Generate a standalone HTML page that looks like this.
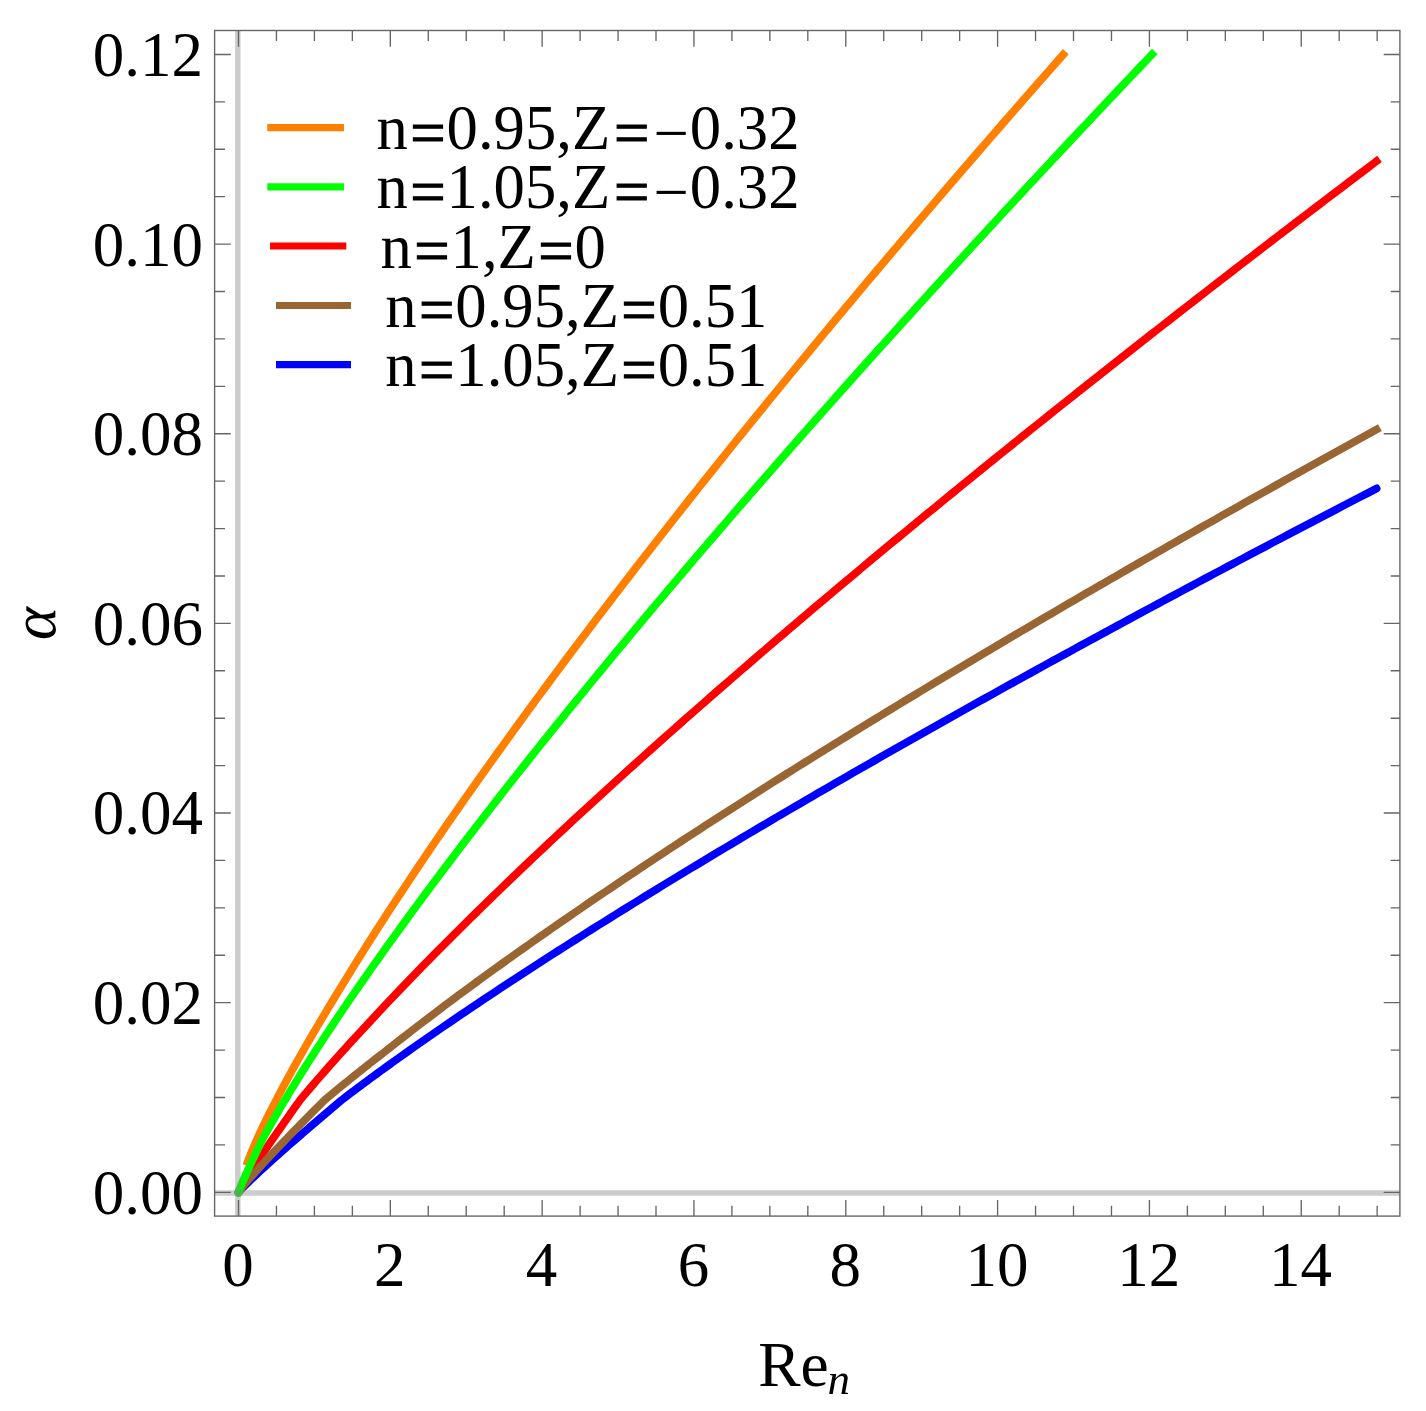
<!DOCTYPE html>
<html><head><meta charset="utf-8"><title>alpha vs Re_n</title>
<style>
html,body{margin:0;padding:0;background:#fff;}
svg{display:block;}
text{font-family:"Liberation Serif","Times New Roman",serif;fill:#000;}
</style></head><body>
<svg width="1426" height="1411" viewBox="0 0 1426 1411">
<rect width="1426" height="1411" fill="#fff"/>
<g fill="none" stroke-width="7.8" stroke-linejoin="round" stroke-linecap="butt">
<path d="M246.26 1165.57 L247.30 1162.80 L248.33 1160.10 L249.37 1157.46 L250.40 1154.87 L251.43 1152.34 L252.47 1149.85 L253.50 1147.41 L254.53 1145.00 L255.57 1142.62 L256.60 1140.28 L257.64 1137.97 L258.67 1135.68 L259.70 1133.42 L260.74 1131.19 L261.77 1128.98 L262.80 1126.80 L263.84 1124.63 L264.87 1122.49 L265.90 1120.36 L266.94 1118.25 L267.97 1116.17 L269.01 1114.09 L270.04 1112.04 L271.07 1110.00 L272.11 1107.97 L273.14 1105.96 L274.17 1103.97 L275.21 1101.98 L276.24 1100.01 L279.49 1093.81 L282.74 1087.68 L285.99 1081.63 L289.24 1075.66 L292.48 1069.74 L295.73 1063.89 L298.98 1058.10 L302.23 1052.36 L305.48 1046.68 L308.73 1041.04 L311.98 1035.44 L315.23 1029.89 L318.48 1024.38 L321.72 1018.91 L324.97 1013.48 L328.22 1008.08 L331.47 1002.71 L334.72 997.38 L337.97 992.08 L342.28 984.99 L346.58 977.95 L350.89 970.96 L355.20 964.02 L359.50 957.12 L363.81 950.26 L368.12 943.45 L372.42 936.68 L376.73 929.95 L381.04 923.25 L385.34 916.59 L389.65 909.97 L393.96 903.38 L398.26 896.82 L402.57 890.29 L406.88 883.80 L411.18 877.33 L415.49 870.89 L419.80 864.48 L424.10 858.10 L428.41 851.74 L432.72 845.41 L437.02 839.11 L441.33 832.83 L445.64 826.57 L449.94 820.33 L454.25 814.12 L458.56 807.93 L462.86 801.77 L467.17 795.62 L471.48 789.49 L475.78 783.39 L480.09 777.30 L484.40 771.23 L488.70 765.19 L493.01 759.16 L497.32 753.14 L501.62 747.15 L505.93 741.18 L510.24 735.22 L514.54 729.28 L518.85 723.35 L523.16 717.44 L527.46 711.55 L531.77 705.67 L536.08 699.81 L540.38 693.96 L544.69 688.13 L549.00 682.31 L553.30 676.51 L557.61 670.72 L561.92 664.95 L566.22 659.18 L570.53 653.44 L574.84 647.70 L579.14 641.98 L583.45 636.27 L587.76 630.58 L592.06 624.89 L596.37 619.22 L600.68 613.56 L604.98 607.92 L609.29 602.28 L613.60 596.66 L617.90 591.05 L622.21 585.45 L626.52 579.86 L630.82 574.28 L635.13 568.72 L639.44 563.16 L643.74 557.61 L648.05 552.08 L652.36 546.55 L656.66 541.04 L660.97 535.54 L665.28 530.04 L669.58 524.56 L673.89 519.08 L678.20 513.62 L682.50 508.16 L686.81 502.72 L691.12 497.28 L695.42 491.85 L699.73 486.44 L704.04 481.03 L708.34 475.63 L712.65 470.23 L716.96 464.85 L721.26 459.48 L725.57 454.11 L729.88 448.76 L734.18 443.41 L738.49 438.07 L742.80 432.73 L747.10 427.41 L751.41 422.10 L755.72 416.79 L760.02 411.49 L764.33 406.20 L768.64 400.91 L772.94 395.63 L777.25 390.36 L781.56 385.10 L785.86 379.85 L790.17 374.60 L794.48 369.36 L798.78 364.13 L803.09 358.91 L807.40 353.69 L811.71 348.48 L816.01 343.27 L820.32 338.08 L824.63 332.88 L828.93 327.70 L833.24 322.53 L837.55 317.36 L841.85 312.19 L846.16 307.04 L850.47 301.88 L854.77 296.74 L859.08 291.60 L863.39 286.47 L867.69 281.35 L872.00 276.23 L876.31 271.12 L880.61 266.01 L884.92 260.91 L889.23 255.82 L893.53 250.73 L897.84 245.65 L902.15 240.57 L906.45 235.50 L910.76 230.44 L915.07 225.38 L919.37 220.33 L923.68 215.28 L927.99 210.24 L932.29 205.20 L936.60 200.17 L940.91 195.15 L945.21 190.13 L949.52 185.12 L953.83 180.11 L958.13 175.11 L962.44 170.11 L966.75 165.12 L971.05 160.13 L975.36 155.15 L979.67 150.17 L983.97 145.20 L988.28 140.23 L992.59 135.27 L996.89 130.32 L1001.20 125.37 L1005.51 120.42 L1009.81 115.48 L1014.12 110.54 L1018.43 105.61 L1022.73 100.69 L1027.04 95.76 L1031.35 90.85 L1035.65 85.94 L1039.96 81.03 L1044.27 76.13 L1048.57 71.23 L1052.88 66.34 L1057.19 61.45 L1061.49 56.56 L1065.80 51.68" stroke="#ff8000"/>
<path d="M238.50 1192.30 L239.24 1190.70 L241.34 1186.90 L243.45 1183.35 L245.55 1179.92 L247.65 1176.56 L249.75 1173.26 L251.85 1170.00 L253.95 1166.78 L256.05 1163.59 L258.15 1160.42 L260.25 1157.27 L262.35 1154.15 L264.45 1151.04 L266.55 1147.95 L268.65 1144.88 L270.75 1141.82 L272.85 1138.77 L274.95 1135.73 L277.05 1132.71 L279.15 1129.69 L281.25 1126.69 L283.35 1123.69 L285.45 1120.70 L287.55 1117.72 L289.65 1114.75 L291.75 1111.79 L293.85 1108.83 L295.95 1105.88 L298.05 1102.93 L300.15 1099.99 L303.41 1096.10 L306.67 1092.23 L309.93 1088.40 L313.19 1084.59 L316.45 1080.81 L319.71 1077.06 L322.97 1073.33 L326.23 1069.62 L329.49 1065.93 L332.75 1062.27 L336.00 1058.63 L339.26 1055.00 L342.52 1051.40 L345.78 1047.81 L349.04 1044.24 L352.30 1040.69 L355.56 1037.16 L358.82 1033.64 L362.08 1030.14 L368.10 1023.58 L374.12 1017.07 L380.14 1010.62 L386.16 1004.20 L392.18 997.83 L398.20 991.50 L404.22 985.22 L410.24 978.97 L416.26 972.75 L422.28 966.57 L428.30 960.43 L434.32 954.32 L440.34 948.24 L446.36 942.18 L452.38 936.16 L458.40 930.17 L464.42 924.20 L470.44 918.26 L476.46 912.35 L482.48 906.46 L488.50 900.59 L494.52 894.75 L500.54 888.93 L506.57 883.14 L512.59 877.36 L518.61 871.61 L524.63 865.88 L530.65 860.16 L536.67 854.47 L542.69 848.80 L548.71 843.14 L554.73 837.51 L560.75 831.89 L566.77 826.29 L572.79 820.70 L578.81 815.13 L584.83 809.58 L590.85 804.05 L596.87 798.53 L602.89 793.02 L608.91 787.54 L614.93 782.06 L620.95 776.60 L626.97 771.16 L632.99 765.73 L639.01 760.31 L645.03 754.91 L651.05 749.52 L657.07 744.14 L663.09 738.78 L669.11 733.43 L675.13 728.09 L681.15 722.76 L687.17 717.45 L693.19 712.14 L699.21 706.85 L705.23 701.57 L711.25 696.31 L717.27 691.05 L723.29 685.80 L729.31 680.57 L735.33 675.34 L741.35 670.13 L747.37 664.93 L753.39 659.74 L759.42 654.55 L765.44 649.38 L771.46 644.22 L777.48 639.06 L783.50 633.92 L789.52 628.79 L795.54 623.66 L801.56 618.55 L807.58 613.44 L813.60 608.34 L819.62 603.26 L825.64 598.18 L831.66 593.11 L837.68 588.04 L843.70 582.99 L849.72 577.94 L855.74 572.91 L861.76 567.88 L867.78 562.86 L873.80 557.85 L879.82 552.84 L885.84 547.84 L891.86 542.85 L897.88 537.87 L903.90 532.90 L909.92 527.93 L915.94 522.97 L921.96 518.02 L927.98 513.08 L934.00 508.14 L940.02 503.21 L946.04 498.29 L952.06 493.37 L958.08 488.46 L964.10 483.56 L970.12 478.67 L976.14 473.78 L982.16 468.90 L988.18 464.02 L994.20 459.15 L1000.22 454.29 L1006.25 449.44 L1012.27 444.59 L1018.29 439.74 L1024.31 434.91 L1030.33 430.08 L1036.35 425.25 L1042.37 420.43 L1048.39 415.62 L1054.41 410.81 L1060.43 406.01 L1066.45 401.22 L1072.47 396.43 L1078.49 391.65 L1084.51 386.87 L1090.53 382.10 L1096.55 377.33 L1102.57 372.57 L1108.59 367.82 L1114.61 363.07 L1120.63 358.32 L1126.65 353.58 L1132.67 348.85 L1138.69 344.12 L1144.71 339.40 L1150.73 334.68 L1156.75 329.97 L1162.77 325.27 L1168.79 320.56 L1174.81 315.87 L1180.83 311.18 L1186.85 306.49 L1192.87 301.81 L1198.89 297.13 L1204.91 292.46 L1210.93 287.79 L1216.95 283.13 L1222.97 278.47 L1228.99 273.82 L1235.01 269.17 L1241.03 264.53 L1247.05 259.89 L1253.07 255.26 L1259.10 250.63 L1265.12 246.00 L1271.14 241.38 L1277.16 236.77 L1283.18 232.16 L1289.20 227.55 L1295.22 222.95 L1301.24 218.35 L1307.26 213.75 L1313.28 209.17 L1319.30 204.58 L1325.32 200.00 L1331.34 195.42 L1337.36 190.85 L1343.38 186.28 L1349.40 181.72 L1355.42 177.16 L1361.44 172.60 L1367.46 168.05 L1373.48 163.50 L1379.50 158.96" stroke="#ff0000"/>
<path d="M238.50 1192.30 L239.26 1191.38 L242.79 1187.64 L246.32 1184.12 L249.86 1180.70 L253.39 1177.34 L256.92 1174.03 L260.45 1170.76 L263.98 1167.52 L267.52 1164.31 L271.05 1161.12 L274.58 1157.95 L278.11 1154.80 L281.64 1151.66 L285.18 1148.54 L288.71 1145.44 L292.24 1142.34 L295.77 1139.26 L299.31 1136.19 L302.84 1133.13 L306.37 1130.08 L309.90 1127.03 L313.43 1124.00 L316.97 1120.98 L320.50 1117.96 L324.03 1114.95 L327.56 1111.94 L331.09 1108.95 L334.63 1105.96 L338.16 1102.97 L341.69 1099.99 L344.89 1097.56 L348.08 1095.13 L351.28 1092.71 L354.48 1090.31 L357.67 1087.91 L360.87 1085.53 L364.06 1083.16 L367.26 1080.79 L370.46 1078.43 L373.65 1076.09 L376.85 1073.75 L380.05 1071.42 L383.24 1069.09 L386.44 1066.78 L389.63 1064.47 L392.83 1062.17 L396.03 1059.88 L399.22 1057.60 L402.42 1055.32 L408.18 1051.23 L413.95 1047.16 L419.71 1043.12 L425.48 1039.09 L431.24 1035.08 L437.01 1031.09 L442.77 1027.12 L448.53 1023.17 L454.30 1019.24 L460.06 1015.32 L465.83 1011.42 L471.59 1007.53 L477.36 1003.66 L483.12 999.80 L488.88 995.96 L494.65 992.13 L500.41 988.32 L506.18 984.52 L511.94 980.73 L517.71 976.95 L523.47 973.19 L529.24 969.44 L535.00 965.70 L540.76 961.98 L546.53 958.26 L552.29 954.56 L558.06 950.86 L563.82 947.18 L569.59 943.51 L575.35 939.85 L581.11 936.20 L586.88 932.56 L592.64 928.92 L598.41 925.30 L604.17 921.69 L609.94 918.09 L615.70 914.49 L621.47 910.91 L627.23 907.33 L632.99 903.76 L638.76 900.20 L644.52 896.65 L650.29 893.11 L656.05 889.57 L661.82 886.04 L667.58 882.53 L673.34 879.01 L679.11 875.51 L684.87 872.01 L690.64 868.52 L696.40 865.04 L702.17 861.57 L707.93 858.10 L713.70 854.64 L719.46 851.19 L725.22 847.74 L730.99 844.30 L736.75 840.87 L742.52 837.44 L748.28 834.02 L754.05 830.60 L759.81 827.20 L765.58 823.79 L771.34 820.40 L777.10 817.01 L782.87 813.63 L788.63 810.25 L794.40 806.88 L800.16 803.51 L805.93 800.15 L811.69 796.79 L817.45 793.45 L823.22 790.10 L828.98 786.76 L834.75 783.43 L840.51 780.10 L846.28 776.78 L852.04 773.46 L857.81 770.15 L863.57 766.85 L869.33 763.54 L875.10 760.25 L880.86 756.96 L886.63 753.67 L892.39 750.39 L898.16 747.11 L903.92 743.84 L909.68 740.57 L915.45 737.31 L921.21 734.05 L926.98 730.79 L932.74 727.55 L938.51 724.30 L944.27 721.06 L950.04 717.82 L955.80 714.59 L961.56 711.37 L967.33 708.14 L973.09 704.92 L978.86 701.71 L984.62 698.50 L990.39 695.29 L996.15 692.09 L1001.91 688.89 L1007.68 685.70 L1013.44 682.51 L1019.21 679.32 L1024.97 676.14 L1030.74 672.96 L1036.50 669.79 L1042.27 666.62 L1048.03 663.45 L1053.79 660.29 L1059.56 657.13 L1065.32 653.98 L1071.09 650.83 L1076.85 647.68 L1082.62 644.53 L1088.38 641.39 L1094.15 638.26 L1099.91 635.12 L1105.67 631.99 L1111.44 628.87 L1117.20 625.74 L1122.97 622.62 L1128.73 619.51 L1134.50 616.39 L1140.26 613.28 L1146.02 610.18 L1151.79 607.08 L1157.55 603.98 L1163.32 600.88 L1169.08 597.79 L1174.85 594.70 L1180.61 591.61 L1186.38 588.53 L1192.14 585.45 L1197.90 582.37 L1203.67 579.30 L1209.43 576.23 L1215.20 573.16 L1220.96 570.09 L1226.73 567.03 L1232.49 563.97 L1238.25 560.92 L1244.02 557.87 L1249.78 554.82 L1255.55 551.77 L1261.31 548.73 L1267.08 545.68 L1272.84 542.65 L1278.61 539.61 L1284.37 536.58 L1290.13 533.55 L1295.90 530.52 L1301.66 527.50 L1307.43 524.48 L1313.19 521.46 L1318.96 518.45 L1324.72 515.43 L1330.48 512.42 L1336.25 509.42 L1342.01 506.41 L1347.78 503.41 L1353.54 500.41 L1359.31 497.41 L1365.07 494.42 L1370.84 491.43 L1376.60 488.44" stroke="#0000ff" stroke-linecap="round"/>
<path d="M238.50 1192.30 L239.24 1191.16 L242.19 1187.32 L245.13 1183.74 L248.08 1180.28 L251.02 1176.90 L253.97 1173.58 L256.91 1170.30 L259.86 1167.06 L262.81 1163.85 L265.75 1160.67 L268.70 1157.51 L271.64 1154.37 L274.59 1151.25 L277.53 1148.14 L280.48 1145.06 L283.43 1141.98 L286.37 1138.92 L289.32 1135.87 L292.26 1132.83 L295.21 1129.80 L298.15 1126.79 L301.10 1123.78 L304.04 1120.78 L306.99 1117.79 L309.94 1114.81 L312.88 1111.83 L315.83 1108.87 L318.77 1105.91 L321.72 1102.95 L324.66 1100.01 L327.97 1097.24 L331.28 1094.48 L334.58 1091.74 L337.89 1089.01 L341.20 1086.30 L344.50 1083.61 L347.81 1080.93 L351.12 1078.26 L354.42 1075.61 L357.73 1072.96 L361.04 1070.34 L364.34 1067.72 L367.65 1065.11 L370.96 1062.52 L374.27 1059.93 L377.57 1057.36 L380.88 1054.80 L384.19 1052.24 L387.49 1049.70 L393.36 1045.05 L399.24 1040.44 L405.11 1035.85 L410.98 1031.29 L416.85 1026.76 L422.73 1022.26 L428.60 1017.78 L434.47 1013.32 L440.34 1008.89 L446.21 1004.48 L452.09 1000.10 L457.96 995.73 L463.83 991.39 L469.70 987.06 L475.58 982.76 L481.45 978.47 L487.32 974.21 L493.19 969.96 L499.06 965.73 L504.94 961.51 L510.81 957.31 L516.68 953.13 L522.55 948.97 L528.43 944.82 L534.30 940.68 L540.17 936.56 L546.04 932.45 L551.91 928.36 L557.79 924.28 L563.66 920.22 L569.53 916.17 L575.40 912.13 L581.28 908.10 L587.15 904.09 L593.02 900.09 L598.89 896.10 L604.76 892.12 L610.64 888.15 L616.51 884.20 L622.38 880.25 L628.25 876.32 L634.13 872.40 L640.00 868.49 L645.87 864.58 L651.74 860.69 L657.61 856.81 L663.49 852.94 L669.36 849.08 L675.23 845.23 L681.10 841.38 L686.98 837.55 L692.85 833.72 L698.72 829.91 L704.59 826.10 L710.47 822.30 L716.34 818.51 L722.21 814.73 L728.08 810.96 L733.95 807.20 L739.83 803.44 L745.70 799.69 L751.57 795.95 L757.44 792.22 L763.32 788.49 L769.19 784.78 L775.06 781.07 L780.93 777.36 L786.80 773.67 L792.68 769.98 L798.55 766.30 L804.42 762.63 L810.29 758.96 L816.17 755.30 L822.04 751.65 L827.91 748.00 L833.78 744.36 L839.65 740.73 L845.53 737.10 L851.40 733.48 L857.27 729.87 L863.14 726.26 L869.02 722.66 L874.89 719.06 L880.76 715.47 L886.63 711.89 L892.50 708.31 L898.38 704.74 L904.25 701.17 L910.12 697.61 L915.99 694.06 L921.87 690.51 L927.74 686.97 L933.61 683.43 L939.48 679.90 L945.35 676.37 L951.23 672.85 L957.10 669.34 L962.97 665.83 L968.84 662.32 L974.72 658.82 L980.59 655.33 L986.46 651.84 L992.33 648.35 L998.20 644.87 L1004.08 641.40 L1009.95 637.93 L1015.82 634.46 L1021.69 631.00 L1027.57 627.55 L1033.44 624.09 L1039.31 620.65 L1045.18 617.21 L1051.05 613.77 L1056.93 610.34 L1062.80 606.91 L1068.67 603.49 L1074.54 600.07 L1080.42 596.65 L1086.29 593.24 L1092.16 589.84 L1098.03 586.44 L1103.90 583.04 L1109.78 579.65 L1115.65 576.26 L1121.52 572.88 L1127.39 569.50 L1133.27 566.12 L1139.14 562.75 L1145.01 559.38 L1150.88 556.02 L1156.76 552.66 L1162.63 549.30 L1168.50 545.95 L1174.37 542.60 L1180.24 539.26 L1186.12 535.92 L1191.99 532.58 L1197.86 529.25 L1203.73 525.92 L1209.61 522.60 L1215.48 519.27 L1221.35 515.96 L1227.22 512.64 L1233.09 509.33 L1238.97 506.03 L1244.84 502.72 L1250.71 499.42 L1256.58 496.13 L1262.46 492.84 L1268.33 489.55 L1274.20 486.26 L1280.07 482.98 L1285.94 479.70 L1291.82 476.43 L1297.69 473.15 L1303.56 469.89 L1309.43 466.62 L1315.31 463.36 L1321.18 460.10 L1327.05 456.85 L1332.92 453.59 L1338.79 450.35 L1344.67 447.10 L1350.54 443.86 L1356.41 440.62 L1362.28 437.38 L1368.16 434.15 L1374.03 430.92 L1379.90 427.70" stroke="#996633"/>
<path d="M238.50 1192.30 L239.26 1190.03 L240.05 1187.97 L240.84 1186.01 L241.63 1184.10 L242.42 1182.24 L243.21 1180.40 L244.01 1178.59 L244.80 1176.81 L245.59 1175.04 L246.38 1173.28 L247.17 1171.54 L247.96 1169.81 L248.75 1168.10 L249.54 1166.39 L250.33 1164.69 L251.12 1163.00 L251.91 1161.32 L252.71 1159.65 L253.50 1157.98 L254.29 1156.32 L255.08 1154.67 L255.87 1153.02 L256.66 1151.38 L257.45 1149.74 L258.24 1148.11 L259.03 1146.48 L259.82 1144.86 L260.62 1143.24 L261.41 1141.62 L262.20 1140.01 L265.39 1134.13 L268.59 1128.35 L271.79 1122.66 L274.98 1117.06 L278.18 1111.54 L281.38 1106.09 L284.57 1100.70 L287.77 1095.37 L290.96 1090.09 L294.16 1084.86 L297.36 1079.68 L300.55 1074.54 L303.75 1069.45 L306.94 1064.39 L310.14 1059.37 L313.34 1054.38 L316.53 1049.43 L319.73 1044.51 L322.93 1039.62 L327.85 1032.15 L332.77 1024.74 L337.69 1017.39 L342.62 1010.10 L347.54 1002.86 L352.46 995.67 L357.38 988.53 L362.30 981.43 L367.23 974.39 L372.15 967.38 L377.07 960.41 L381.99 953.48 L386.92 946.59 L391.84 939.73 L396.76 932.91 L401.68 926.13 L406.61 919.37 L411.53 912.64 L416.45 905.95 L421.37 899.28 L426.29 892.64 L431.22 886.03 L436.14 879.45 L441.06 872.89 L445.98 866.35 L450.91 859.84 L455.83 853.36 L460.75 846.89 L465.67 840.45 L470.60 834.03 L475.52 827.63 L480.44 821.26 L485.36 814.90 L490.29 808.56 L495.21 802.25 L500.13 795.95 L505.05 789.67 L509.97 783.40 L514.90 777.16 L519.82 770.93 L524.74 764.72 L529.66 758.53 L534.59 752.35 L539.51 746.19 L544.43 740.05 L549.35 733.92 L554.28 727.80 L559.20 721.70 L564.12 715.62 L569.04 709.55 L573.96 703.49 L578.89 697.45 L583.81 691.42 L588.73 685.40 L593.65 679.40 L598.58 673.41 L603.50 667.43 L608.42 661.47 L613.34 655.52 L618.27 649.58 L623.19 643.65 L628.11 637.74 L633.03 631.83 L637.96 625.94 L642.88 620.06 L647.80 614.19 L652.72 608.33 L657.64 602.48 L662.57 596.65 L667.49 590.82 L672.41 585.01 L677.33 579.20 L682.26 573.40 L687.18 567.62 L692.10 561.84 L697.02 556.08 L701.95 550.32 L706.87 544.58 L711.79 538.84 L716.71 533.11 L721.63 527.39 L726.56 521.68 L731.48 515.98 L736.40 510.29 L741.32 504.61 L746.25 498.94 L751.17 493.27 L756.09 487.61 L761.01 481.97 L765.94 476.33 L770.86 470.70 L775.78 465.07 L780.70 459.46 L785.63 453.85 L790.55 448.25 L795.47 442.66 L800.39 437.07 L805.31 431.50 L810.24 425.93 L815.16 420.37 L820.08 414.81 L825.00 409.27 L829.93 403.73 L834.85 398.19 L839.77 392.67 L844.69 387.15 L849.62 381.64 L854.54 376.14 L859.46 370.64 L864.38 365.15 L869.30 359.67 L874.23 354.19 L879.15 348.72 L884.07 343.26 L888.99 337.80 L893.92 332.35 L898.84 326.90 L903.76 321.47 L908.68 316.04 L913.61 310.61 L918.53 305.19 L923.45 299.78 L928.37 294.37 L933.30 288.97 L938.22 283.58 L943.14 278.19 L948.06 272.80 L952.98 267.43 L957.91 262.06 L962.83 256.69 L967.75 251.33 L972.67 245.98 L977.60 240.63 L982.52 235.28 L987.44 229.95 L992.36 224.61 L997.29 219.29 L1002.21 213.97 L1007.13 208.65 L1012.05 203.34 L1016.97 198.03 L1021.90 192.74 L1026.82 187.44 L1031.74 182.15 L1036.66 176.87 L1041.59 171.59 L1046.51 166.31 L1051.43 161.04 L1056.35 155.78 L1061.28 150.52 L1066.20 145.27 L1071.12 140.02 L1076.04 134.77 L1080.97 129.53 L1085.89 124.30 L1090.81 119.07 L1095.73 113.84 L1100.65 108.62 L1105.58 103.40 L1110.50 98.19 L1115.42 92.99 L1120.34 87.78 L1125.27 82.59 L1130.19 77.39 L1135.11 72.20 L1140.03 67.02 L1144.96 61.84 L1149.88 56.66 L1154.80 51.49" stroke="#00ff00"/>
</g>
<circle cx="238.50" cy="1192.90" r="4.20" fill="#00ff00"/>
<g stroke="#808080" stroke-opacity="0.4" stroke-width="5.5" fill="none"><line x1="237.85" y1="30.5" x2="237.85" y2="1216.1"/><line x1="214.6" y1="1193.05" x2="1399.9" y2="1193.05"/></g>
<path d="M238.50 1216.1 v-16.2 M238.50 30.5 v16.2 M276.45 1216.1 v-10.4 M276.45 30.5 v10.4 M314.41 1216.1 v-10.4 M314.41 30.5 v10.4 M352.37 1216.1 v-10.4 M352.37 30.5 v10.4 M390.32 1216.1 v-16.2 M390.32 30.5 v16.2 M428.27 1216.1 v-10.4 M428.27 30.5 v10.4 M466.23 1216.1 v-10.4 M466.23 30.5 v10.4 M504.19 1216.1 v-10.4 M504.19 30.5 v10.4 M542.14 1216.1 v-16.2 M542.14 30.5 v16.2 M580.10 1216.1 v-10.4 M580.10 30.5 v10.4 M618.05 1216.1 v-10.4 M618.05 30.5 v10.4 M656.00 1216.1 v-10.4 M656.00 30.5 v10.4 M693.96 1216.1 v-16.2 M693.96 30.5 v16.2 M731.91 1216.1 v-10.4 M731.91 30.5 v10.4 M769.87 1216.1 v-10.4 M769.87 30.5 v10.4 M807.82 1216.1 v-10.4 M807.82 30.5 v10.4 M845.78 1216.1 v-16.2 M845.78 30.5 v16.2 M883.74 1216.1 v-10.4 M883.74 30.5 v10.4 M921.69 1216.1 v-10.4 M921.69 30.5 v10.4 M959.64 1216.1 v-10.4 M959.64 30.5 v10.4 M997.60 1216.1 v-16.2 M997.60 30.5 v16.2 M1035.55 1216.1 v-10.4 M1035.55 30.5 v10.4 M1073.51 1216.1 v-10.4 M1073.51 30.5 v10.4 M1111.46 1216.1 v-10.4 M1111.46 30.5 v10.4 M1149.42 1216.1 v-16.2 M1149.42 30.5 v16.2 M1187.38 1216.1 v-10.4 M1187.38 30.5 v10.4 M1225.33 1216.1 v-10.4 M1225.33 30.5 v10.4 M1263.28 1216.1 v-10.4 M1263.28 30.5 v10.4 M1301.24 1216.1 v-16.2 M1301.24 30.5 v16.2 M1339.19 1216.1 v-10.4 M1339.19 30.5 v10.4 M1377.15 1216.1 v-10.4 M1377.15 30.5 v10.4 M214.6 1192.30 h16.2 M1399.9 1192.30 h-16.2 M214.6 1144.89 h10.4 M1399.9 1144.89 h-9.200000000000001 M214.6 1097.48 h10.4 M1399.9 1097.48 h-9.200000000000001 M214.6 1050.07 h10.4 M1399.9 1050.07 h-9.200000000000001 M214.6 1002.66 h16.2 M1399.9 1002.66 h-16.2 M214.6 955.25 h10.4 M1399.9 955.25 h-9.200000000000001 M214.6 907.84 h10.4 M1399.9 907.84 h-9.200000000000001 M214.6 860.43 h10.4 M1399.9 860.43 h-9.200000000000001 M214.6 813.02 h16.2 M1399.9 813.02 h-16.2 M214.6 765.61 h10.4 M1399.9 765.61 h-9.200000000000001 M214.6 718.20 h10.4 M1399.9 718.20 h-9.200000000000001 M214.6 670.79 h10.4 M1399.9 670.79 h-9.200000000000001 M214.6 623.38 h16.2 M1399.9 623.38 h-16.2 M214.6 575.97 h10.4 M1399.9 575.97 h-9.200000000000001 M214.6 528.56 h10.4 M1399.9 528.56 h-9.200000000000001 M214.6 481.15 h10.4 M1399.9 481.15 h-9.200000000000001 M214.6 433.74 h16.2 M1399.9 433.74 h-16.2 M214.6 386.33 h10.4 M1399.9 386.33 h-9.200000000000001 M214.6 338.92 h10.4 M1399.9 338.92 h-9.200000000000001 M214.6 291.51 h10.4 M1399.9 291.51 h-9.200000000000001 M214.6 244.10 h16.2 M1399.9 244.10 h-16.2 M214.6 196.69 h10.4 M1399.9 196.69 h-9.200000000000001 M214.6 149.28 h10.4 M1399.9 149.28 h-9.200000000000001 M214.6 101.87 h10.4 M1399.9 101.87 h-9.200000000000001 M214.6 54.46 h16.2 M1399.9 54.46 h-16.2" stroke="#666" stroke-width="1.35" fill="none"/>
<rect x="214.6" y="30.5" width="1185.30" height="1185.60" fill="none" stroke="#666" stroke-width="1.4"/>
<g font-size="63.0">
<text x="203" y="1213.7" text-anchor="end">0.00</text>
<text x="203" y="1024.1" text-anchor="end">0.02</text>
<text x="203" y="834.4" text-anchor="end">0.04</text>
<text x="203" y="644.8" text-anchor="end">0.06</text>
<text x="203" y="455.1" text-anchor="end">0.08</text>
<text x="203" y="265.5" text-anchor="end">0.10</text>
<text x="203" y="75.9" text-anchor="end">0.12</text>
<text x="237.9" y="1285.9" text-anchor="middle">0</text>
<text x="389.7" y="1285.9" text-anchor="middle">2</text>
<text x="541.5" y="1285.9" text-anchor="middle">4</text>
<text x="693.4" y="1285.9" text-anchor="middle">6</text>
<text x="845.2" y="1285.9" text-anchor="middle">8</text>
<text x="997.0" y="1285.9" text-anchor="middle">10</text>
<text x="1148.8" y="1285.9" text-anchor="middle">12</text>
<text x="1300.6" y="1285.9" text-anchor="middle">14</text>
</g>
<text font-size="63.0" font-style="italic" text-anchor="middle" transform="translate(54.5,623.5) rotate(-90)">α</text>
<text font-size="63.4" x="758.3" y="1385.5">Re<tspan font-size="45" font-style="italic" dy="8.2" dx="-1.2">n</tspan></text>
<line x1="267.3" y1="127.6" x2="344.0" y2="127.6" stroke="#ff8000" stroke-width="7.2"/>
<text font-size="62.7" x="376.6" y="149.0">n<tspan dx="2.3" dy="4.6" stroke="#000" stroke-width="1.1">=</tspan><tspan dx="1.0" dy="-4.6">0</tspan>.95,Z<tspan dx="3.6" dy="4.6" stroke="#000" stroke-width="1.1">=</tspan><tspan dx="4.2">−</tspan><tspan dx="1.0" dy="-4.6">0</tspan>.32</text>
<line x1="267.3" y1="186.8" x2="344.0" y2="186.8" stroke="#00ff00" stroke-width="7.2"/>
<text font-size="62.7" x="376.6" y="208.3">n<tspan dx="2.3" dy="4.6" stroke="#000" stroke-width="1.1">=</tspan><tspan dx="1.0" dy="-4.6">1</tspan>.05,Z<tspan dx="3.6" dy="4.6" stroke="#000" stroke-width="1.1">=</tspan><tspan dx="4.2">−</tspan><tspan dx="1.0" dy="-4.6">0</tspan>.32</text>
<line x1="270.0" y1="246.0" x2="346.3" y2="246.0" stroke="#ff0000" stroke-width="7.2"/>
<text font-size="62.7" x="380.6" y="267.5">n<tspan dx="2.3" dy="4.6" stroke="#000" stroke-width="1.1">=</tspan><tspan dx="1.0" dy="-4.6">1</tspan>,Z<tspan dx="2.3" dy="4.6" stroke="#000" stroke-width="1.1">=</tspan><tspan dx="1.0" dy="-4.6">0</tspan></text>
<line x1="276.0" y1="305.5" x2="351.0" y2="305.5" stroke="#996633" stroke-width="7.2"/>
<text font-size="62.7" x="385.3" y="326.8">n<tspan dx="2.3" dy="4.6" stroke="#000" stroke-width="1.1">=</tspan><tspan dx="1.0" dy="-4.6">0</tspan>.95,Z<tspan dx="2.3" dy="4.6" stroke="#000" stroke-width="1.1">=</tspan><tspan dx="1.0" dy="-4.6">0</tspan>.51</text>
<line x1="276.0" y1="364.6" x2="351.0" y2="364.6" stroke="#0000ff" stroke-width="7.2"/>
<text font-size="62.7" x="385.3" y="386.0">n<tspan dx="2.3" dy="4.6" stroke="#000" stroke-width="1.1">=</tspan><tspan dx="1.0" dy="-4.6">1</tspan>.05,Z<tspan dx="2.3" dy="4.6" stroke="#000" stroke-width="1.1">=</tspan><tspan dx="1.0" dy="-4.6">0</tspan>.51</text>
</svg></body></html>
